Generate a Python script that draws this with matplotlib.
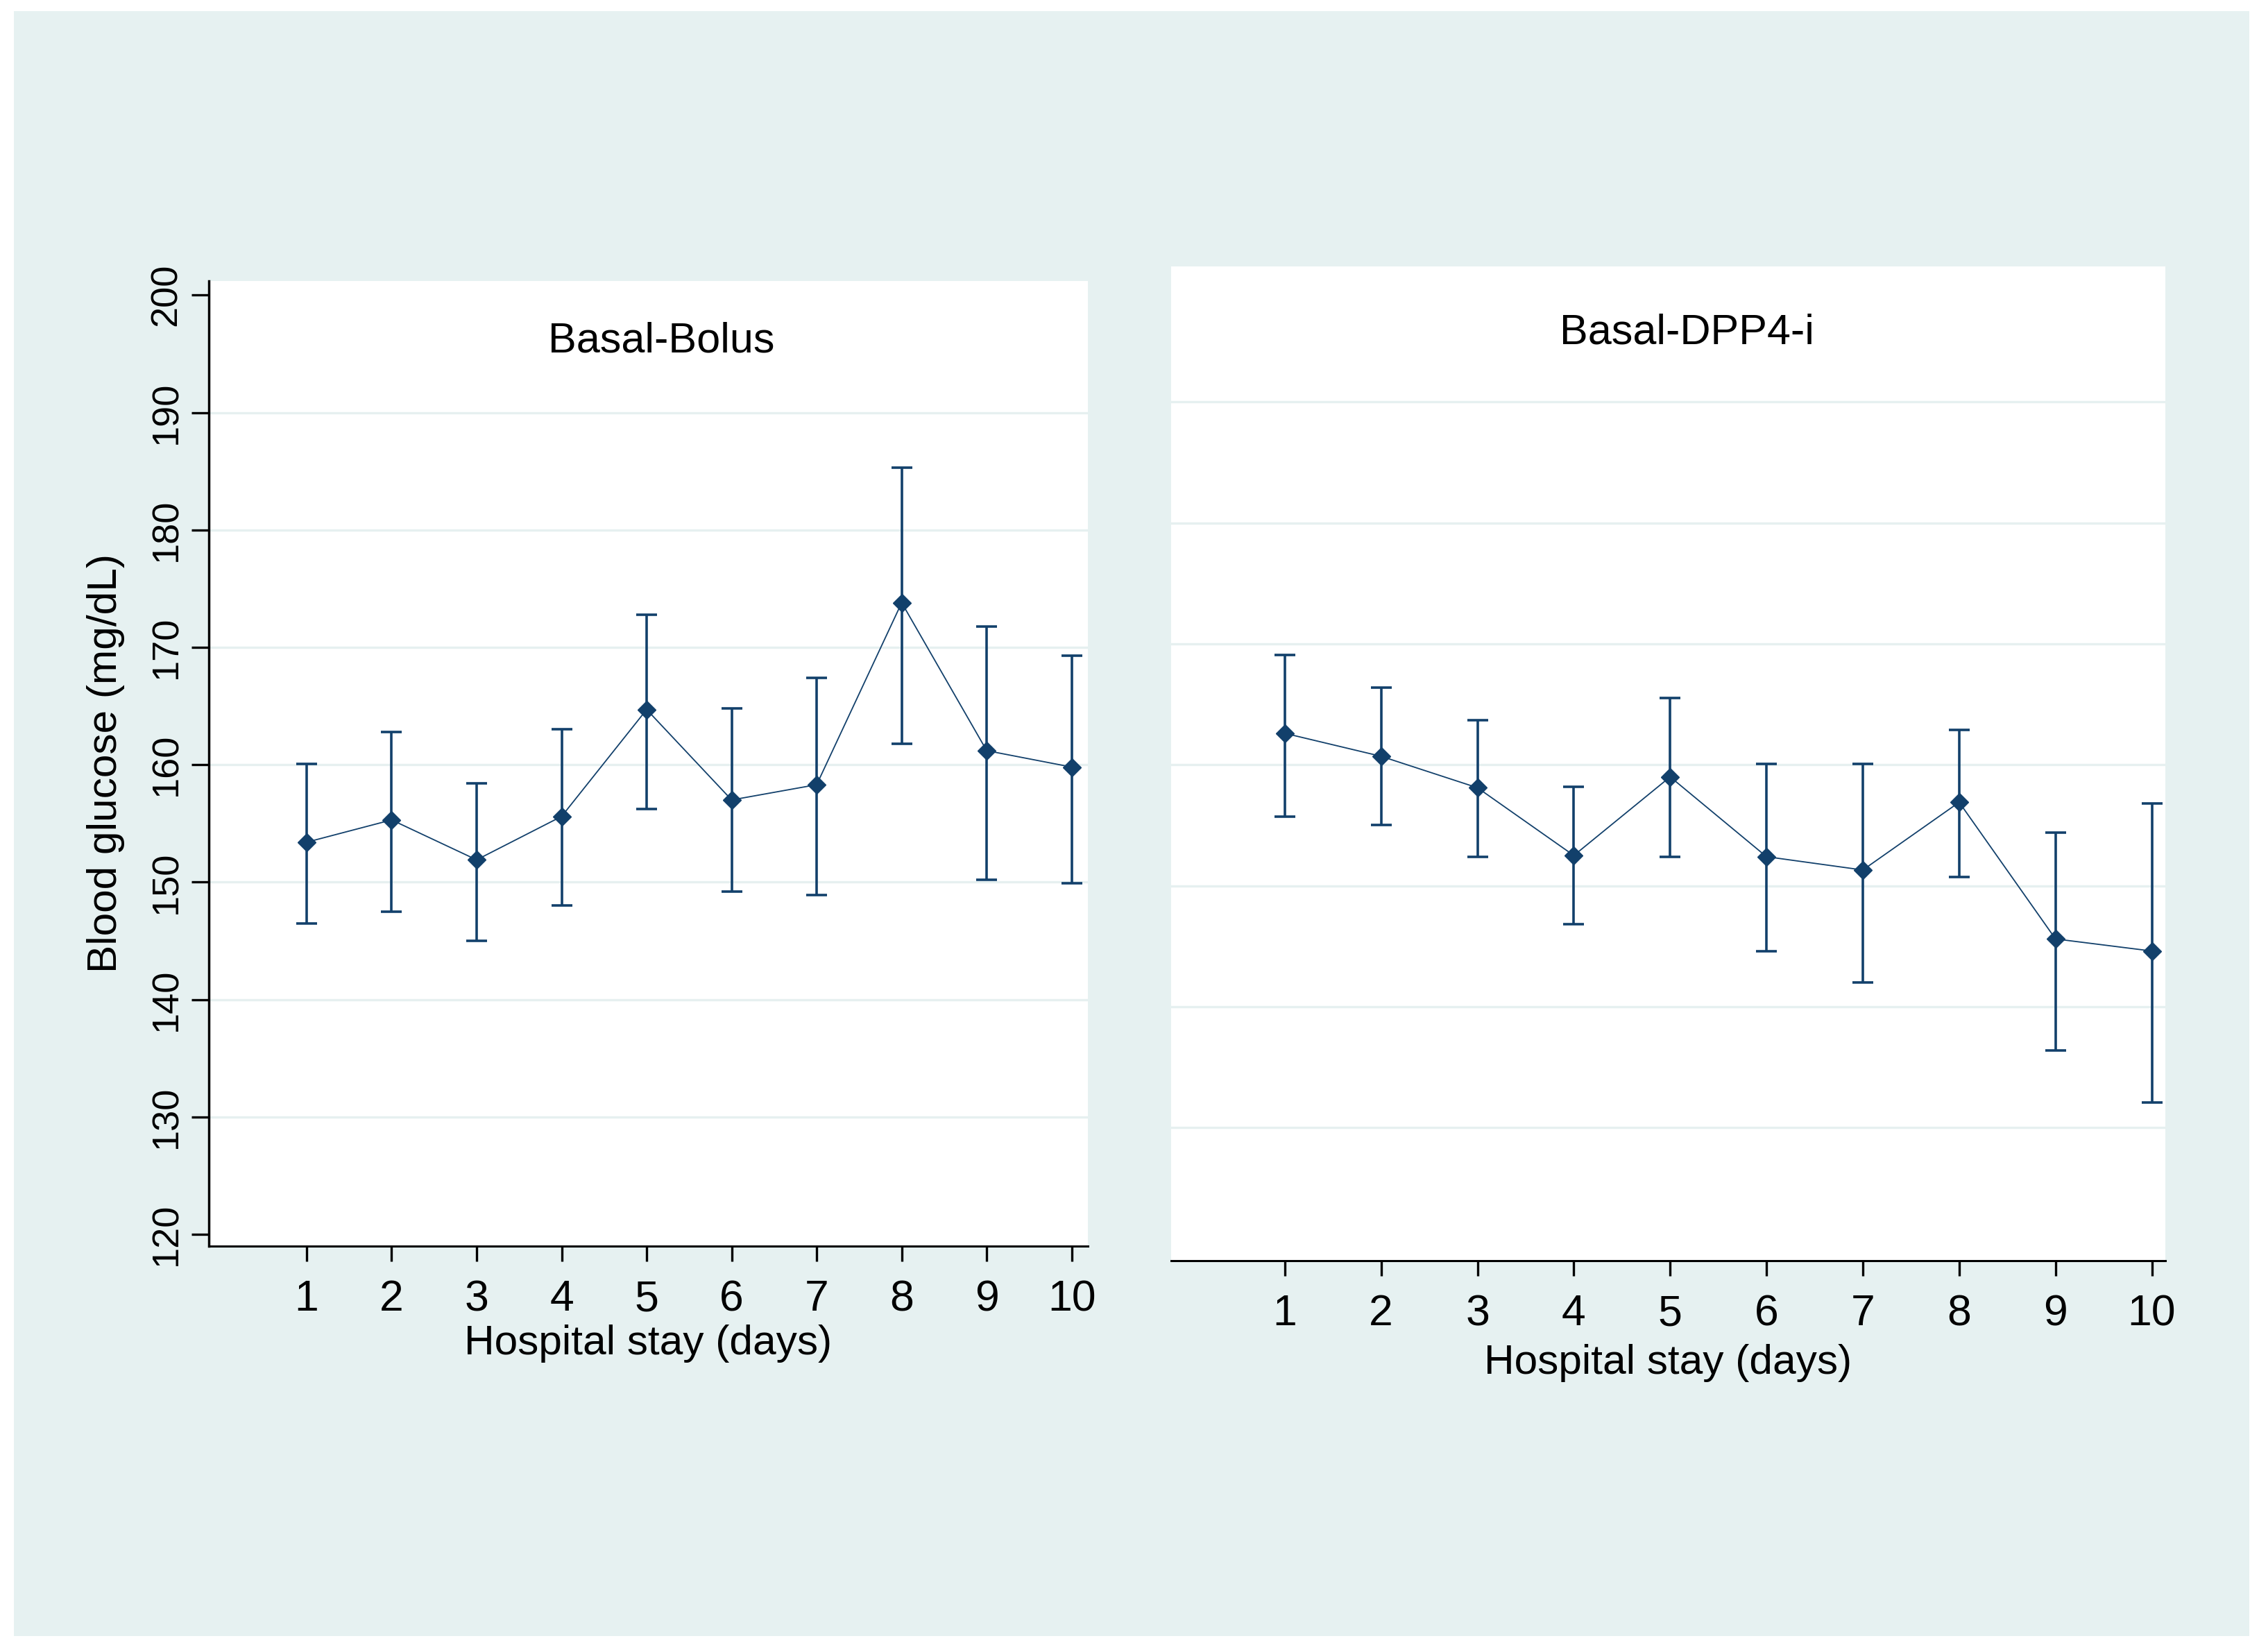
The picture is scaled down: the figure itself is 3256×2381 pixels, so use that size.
import matplotlib
matplotlib.use("Agg")
import matplotlib.pyplot as plt
from matplotlib.patches import Rectangle

plt.rcParams['font.family'] = ['Liberation Sans', 'DejaVu Sans']

days = [1, 2, 3, 4, 5, 6, 7, 8, 9, 10]

# Basal-Bolus: mean and 95% CI bounds
bolus_mean = [153.4, 155.3, 151.9, 155.6, 164.7, 157.0, 158.3, 173.8, 161.2, 159.8]
bolus_low = [146.5, 147.5, 145.0, 148.0, 156.2, 149.2, 148.9, 161.8, 150.2, 149.9]
bolus_high = [160.1, 162.8, 158.4, 163.0, 172.8, 164.8, 167.4, 185.3, 171.8, 169.3]

# Basal-DPP4-i
dpp4_mean = [162.6, 160.7, 158.1, 152.5, 159.0, 152.4, 151.3, 156.9, 145.6, 144.6]
dpp4_low = [155.7, 155.0, 152.4, 146.8, 152.4, 144.6, 142.0, 150.7, 136.4, 132.1]
dpp4_high = [169.1, 166.4, 163.7, 158.2, 165.5, 160.1, 160.1, 162.9, 154.4, 156.8]

y_ticks = [120, 130, 140, 150, 160, 170, 180, 190, 200]
grid_vals = [130, 140, 150, 160, 170, 180, 190]

NAVY = '#12406b'
BG = '#e6f1f1'
GRID = '#e6f0f0'

W, H = 3256, 2381
fig = plt.figure(figsize=(W / 100, H / 100), dpi=100, facecolor='white')
fig.patches.append(Rectangle((20 / W, 1 - 2358 / H), (3242 - 20) / W, (2358 - 16) / H,
                             transform=fig.transFigure, facecolor=BG, edgecolor='none',
                             zorder=-10))


def px_axes(x0, y0, x1, y1):
    return fig.add_axes([x0 / W, 1 - y1 / H, (x1 - x0) / W, (y1 - y0) / H])


def draw_panel(ax, mean, low, high, title, title_xy, xlab_y, xlim):
    ax.set_facecolor('white')
    for g in grid_vals:
        ax.axhline(g, color=GRID, lw=2.4, zorder=1)
    yerr = [[m - l for m, l in zip(mean, low)], [h - m for m, h in zip(mean, high)]]
    ax.errorbar(days, mean, yerr=yerr, fmt='none', ecolor=NAVY, elinewidth=2.6,
                capsize=10.5, capthick=2.6, zorder=3)
    ax.plot(days, mean, color=NAVY, lw=1.3, marker='D', ms=13, mec=NAVY, mfc=NAVY, zorder=4)
    ax.set_xlim(*xlim)
    ax.set_ylim(119.0, 201.2)
    ax.set_xticks(days)
    ax.set_xticklabels([str(d) for d in days], fontsize=45)
    ax.tick_params(axis='x', length=16, width=2.4, pad=18, direction='out')
    for s in ['top', 'right']:
        ax.spines[s].set_visible(False)
    ax.spines['bottom'].set_linewidth(2.2)
    ax.spines['left'].set_linewidth(2.5)
    ax.text(title_xy[0], title_xy[1], title, transform=ax.transAxes, fontsize=44,
            ha='center', va='center')
    ax.set_xlabel('Hospital stay (days)', fontsize=43.5, va='center')
    ax.xaxis.set_label_coords(0.5, xlab_y)


ax1 = px_axes(301, 405, 1568, 1796)
draw_panel(ax1, bolus_mean, bolus_low, bolus_high, 'Basal-Bolus', (0.515, 0.9375), -0.101,
           (-0.15, 10.19))
ax1.set_yticks(y_ticks)
ax1.set_yticklabels([str(v) for v in y_ticks], fontsize=39, rotation=90, va='center')
ax1.tick_params(axis='y', length=18, width=2.4, pad=8)
ax1.set_ylabel('Blood glucose (mg/dL)', fontsize=43.5, va='center')
ax1.yaxis.set_label_coords(-0.1176, 0.5)

ax2 = px_axes(1688, 384, 3121, 1817)
draw_panel(ax2, dpp4_mean, dpp4_low, dpp4_high, 'Basal-DPP4-i', (0.519, 0.933), -0.1026,
           (-0.18, 10.14))
ax2.spines['left'].set_visible(False)
ax2.set_yticks([])

fig.savefig('out.png', dpi=100, facecolor='white')
